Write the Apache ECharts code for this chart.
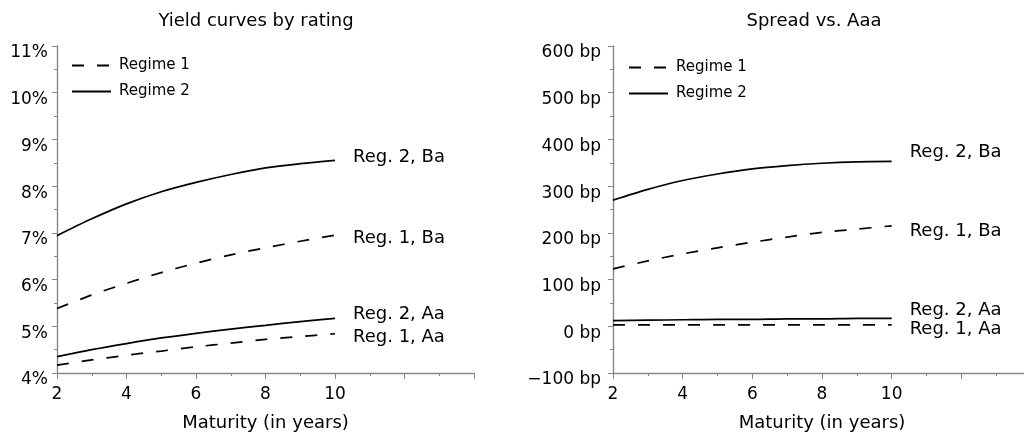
<!DOCTYPE html>
<html>
<head>
<meta charset="utf-8">
<script src="https://cdn.jsdelivr.net/npm/echarts@6/dist/echarts.min.js"></script>
<style>
html,body{margin:0;padding:0;background:#fff;}
#chart{width:1024px;height:432px;}
</style>
</head>
<body>
<div id="chart"></div>
<script>
// ---- data ----
const maturities = [2, 3, 4, 5, 6, 7, 8, 9, 10];
const xTickLabels = [2, 4, 6, 8, 10];

// Yield curves (percent)
const yieldReg2Ba = [6.94, 7.30, 7.62, 7.88, 8.08, 8.25, 8.39, 8.48, 8.55];
const yieldReg1Ba = [5.38, 5.67, 5.92, 6.15, 6.35, 6.53, 6.68, 6.82, 6.95];
const yieldReg2Aa = [4.35, 4.50, 4.63, 4.75, 4.85, 4.94, 5.02, 5.10, 5.17];
const yieldReg1Aa = [4.17, 4.28, 4.38, 4.47, 4.56, 4.64, 4.72, 4.78, 4.84];

// Spread vs. Aaa (basis points)
const spreadReg2Ba = [270, 293, 312, 326, 337, 344, 349, 352, 353];
const spreadReg1Ba = [123, 140, 155, 168, 180, 191, 201, 208, 215];
const spreadReg2Aa = [12, 13, 14, 15, 15, 16, 16, 17, 17];
const spreadReg1Aa = [3, 3, 3, 3, 3, 3, 3, 3, 3];

const regimeNames = ['Regime 1', 'Regime 2'];

// ---- build ----
const FONT = 'DejaVu Sans';
const AXIS_COLOR = '#888888';
const DASH = [12, 13];
const LINE_W = 1.7;
const pairs = arr => maturities.map((m, i) => [m, arr[i]]);

function curve(name, data, dashed, gridIdx, dy) {
  return {
    type: 'line', name: name, data: pairs(data),
    xAxisIndex: gridIdx, yAxisIndex: gridIdx,
    smooth: 0.3, symbol: 'none', showSymbol: false, silent: true,
    lineStyle: { color: '#000', width: LINE_W, type: dashed ? DASH : 'solid' },
    endLabel: {
      show: true, formatter: name, distance: 18, offset: [0, dy],
      color: '#000', fontFamily: FONT, fontSize: 18
    },
    emphasis: { disabled: true }
  };
}
function dummy(name, dashed, gridIdx) {
  return {
    type: 'line', name: name, data: [],
    xAxisIndex: gridIdx, yAxisIndex: gridIdx,
    symbol: 'none', showSymbol: false,
    lineStyle: { color: '#000', width: LINE_W, type: dashed ? DASH : 'solid' },
    itemStyle: { color: '#000' }
  };
}

function xAxis(gridIdx) {
  return {
    type: 'value', gridIndex: gridIdx, min: 2, max: 14, interval: 2,
    name: 'Maturity (in years)', nameLocation: 'middle', nameGap: 41,
    nameTextStyle: { color: '#000', fontFamily: FONT, fontSize: 18 },
    axisLine: { show: true, onZero: false, lineStyle: { color: AXIS_COLOR, width: 1.4 } },
    axisTick: { show: true, inside: false, length: 6, lineStyle: { color: AXIS_COLOR } },
    minorTick: { show: true, splitNumber: 2, length: 3, lineStyle: { color: AXIS_COLOR } },
    axisLabel: {
      color: '#000', fontFamily: FONT, fontSize: 17, margin: 13,
      formatter: v => (xTickLabels.indexOf(v) >= 0 ? String(v) : '')
    },
    splitLine: { show: false }
  };
}
function yAxis(gridIdx, min, max, interval, fmt, margin) {
  return {
    type: 'value', gridIndex: gridIdx, min: min, max: max, interval: interval,
    axisLine: { show: true, onZero: false, lineStyle: { color: AXIS_COLOR, width: 1.4 } },
    axisTick: { show: true, inside: false, length: 5, lineStyle: { color: AXIS_COLOR } },
    minorTick: { show: true, splitNumber: 2, length: 3, lineStyle: { color: AXIS_COLOR } },
    axisLabel: {
      color: '#000', fontFamily: FONT, fontSize: 17, margin: margin,
      verticalAlign: 'top', lineHeight: 14,
      verticalAlignMinLabel: 'top', verticalAlignMaxLabel: 'top',
      formatter: fmt
    },
    splitLine: { show: false }
  };
}

const legendBase = {
  orient: 'vertical', data: regimeNames, itemWidth: 39, itemHeight: 14, itemGap: 11,
  selectedMode: false,
  itemStyle: { color: 'rgba(0,0,0,0)', borderColor: 'rgba(0,0,0,0)', borderWidth: 0 },
  textStyle: { color: '#000', fontFamily: FONT, fontSize: 15, padding: [0, 0, 0, 3] }
};

const option = {
  backgroundColor: '#fff',
  animation: false,
  title: [
    { text: 'Yield curves by rating', left: 251, top: 7, textAlign: 'center',
      textStyle: { color: '#000', fontFamily: FONT, fontSize: 18, fontWeight: 'normal' } },
    { text: 'Spread vs. Aaa', left: 809, top: 7, textAlign: 'center',
      textStyle: { color: '#000', fontFamily: FONT, fontSize: 18, fontWeight: 'normal' } }
  ],
  legend: [
    Object.assign({}, legendBase, { left: 66, top: 53 }),
    Object.assign({}, legendBase, { left: 623, top: 55 })
  ],
  grid: [
    { left: 57, top: 46, width: 417, height: 327, outerBoundsMode: 'none' },
    { left: 613, top: 46, width: 418, height: 327, outerBoundsMode: 'none' }
  ],
  xAxis: [xAxis(0), xAxis(1)],
  yAxis: [
    yAxis(0, 4, 11, 1, v => v + '%', 9),
    yAxis(1, -100, 600, 100, v => (v < 0 ? '\u2212' + Math.abs(v) : v) + ' bp', 12)
  ],
  series: [
    dummy('Regime 1', true, 0),
    dummy('Regime 2', false, 0),
    curve('Reg. 2, Ba', yieldReg2Ba, false, 0, -3),
    curve('Reg. 1, Ba', yieldReg1Ba, true, 0, 3),
    curve('Reg. 2, Aa', yieldReg2Aa, false, 0, -4),
    curve('Reg. 1, Aa', yieldReg1Aa, true, 0, 4),
    curve('Reg. 2, Ba', spreadReg2Ba, false, 1, -9),
    curve('Reg. 1, Ba', spreadReg1Ba, true, 1, 5),
    curve('Reg. 2, Aa', spreadReg2Aa, false, 1, -8),
    curve('Reg. 1, Aa', spreadReg1Aa, true, 1, 4)
  ]
};

const chart = echarts.init(document.getElementById('chart'));
chart.setOption(option);
</script>
</body>
</html>
